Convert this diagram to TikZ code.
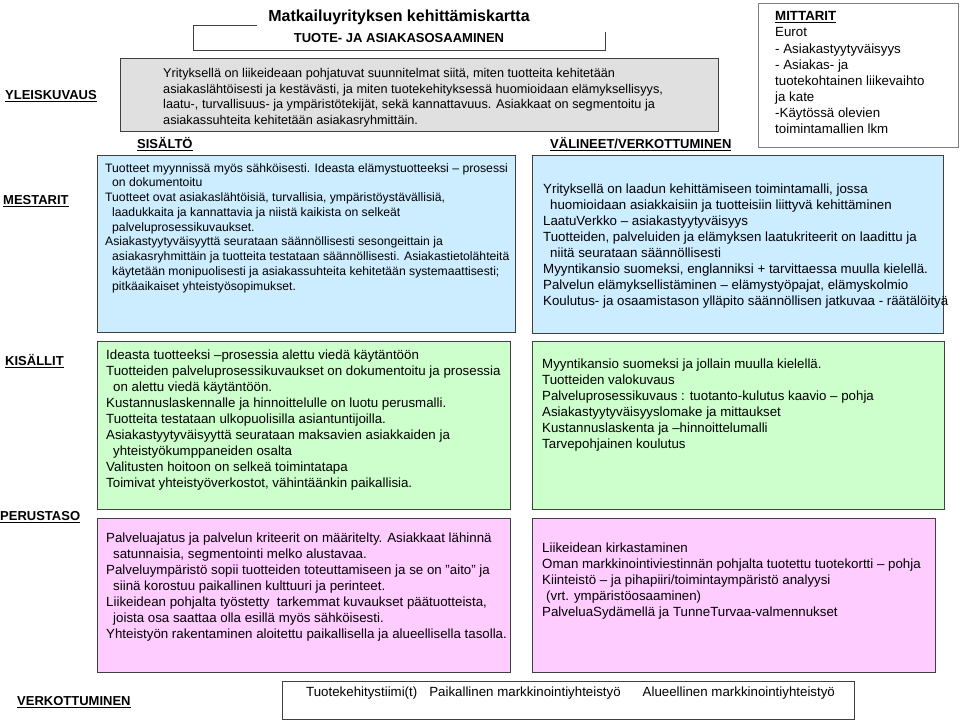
\documentclass[tikz,border=0pt]{standalone}
\usepackage{fontspec}
\setmainfont{Liberation Sans}
\usepackage{xcolor}
\usetikzlibrary{positioning}
\definecolor{greyfill}{RGB}{224,224,224}
\definecolor{bluefill}{RGB}{204,236,255}
\definecolor{greenfill}{RGB}{204,255,204}
\definecolor{pinkfill}{RGB}{255,204,255}
\definecolor{edgegrey}{RGB}{64,64,64}
\newcommand{\ind}{\hspace*{7pt}}

\begin{document}
\begin{tikzpicture}[x=1pt,y=-1pt,
 panel/.style={draw=edgegrey,line width=1.1pt,anchor=north west,inner sep=0pt},
 txt/.style={anchor=north west,align=left,inner sep=0pt,font=\fontsize{13.3}{16}\selectfont},
 lbl/.style={anchor=west,inner sep=0pt,font=\fontsize{13}{15}\selectfont\bfseries}]
\useasboundingbox[fill=white] (0,0) rectangle (960,723);
\draw[edgegrey,line width=0.8pt] (257,25) -- (193,25) -- (193,50) -- (605,50) -- (605,32);
\node[font=\fontsize{16}{19}\selectfont\bfseries] (title) at (399,17) {Matkailuyrityksen kehittämiskartta};
\node[font=\fontsize{13}{15}\selectfont\bfseries] (sub) at (399,38) {TUOTE- JA ASIAKASOSAAMINEN};
\node[panel,fill=greyfill,minimum width=598pt,minimum height=73pt] (yleis) at (120,58) {};
\node[txt,font=\fontsize{12.7}{15.7}\selectfont] (yleistxt) at (163,68) {Yrityksellä on liikeideaan pohjatuvat suunnitelmat siitä, miten tuotteita kehitetään\\
asiakaslähtöisesti ja kestävästi, ja miten tuotekehityksessä huomioidaan elämyksellisyys,\\
laatu-, turvallisuus- ja ympäristötekijät, sekä kannattavuus. Asiakkaat on segmentoitu ja\\
asiakassuhteita kehitetään asiakasryhmittäin.};
\node[panel,draw=gray,line width=0.8pt,fill=white,minimum width=200pt,minimum height=144pt] (mitt) at (758,3) {};
\node[txt,font=\fontsize{13.3}{16.1}\selectfont] (mitttxt) at (775,11.5) {\textbf{\underline{MITTARIT}}\\
Eurot\\
- Asiakastyytyväisyys\\
- Asiakas- ja\\
tuotekohtainen liikevaihto\\
ja kate\\
-Käytössä olevien\\
toimintamallien lkm};
\node[lbl] (yleislbl) at (5,96) {\underline{YLEISKUVAUS}};
\node[lbl] (sislbl) at (137,144) {\underline{SISÄLTÖ}};
\node[lbl] (vallbl) at (550,144) {\underline{VÄLINEET/VERKOTTUMINEN}};
\node[lbl] (mestlbl) at (3,201) {\underline{MESTARIT}};
\node[lbl] (kislbl) at (5,361) {\underline{KISÄLLIT}};
\node[lbl] (perlbl) at (0,517) {\underline{PERUSTASO}};
\node[lbl] (verlbl) at (17,702) {\underline{VERKOTTUMINEN}};
\node[panel,fill=bluefill,minimum width=418pt,minimum height=177pt] (mests) at (97,155) {};
\node[txt,font=\fontsize{12.2}{14.75}\selectfont] (meststxt) at (105,163) {Tuotteet myynnissä myös sähköisesti. Ideasta elämystuotteeksi -- prosessi\\
\ind on dokumentoitu\\
Tuotteet ovat asiakaslähtöisiä, turvallisia, ympäristöystävällisiä,\\
\ind laadukkaita ja kannattavia ja niistä kaikista on selkeät\\
\ind palveluprosessikuvaukset.\\
Asiakastyytyväisyyttä seurataan säännöllisesti sesongeittain ja\\
\ind asiakasryhmittäin ja tuotteita testataan säännöllisesti. Asiakastietolähteitä\\
\ind käytetään monipuolisesti ja asiakassuhteita kehitetään systemaattisesti;\\
\ind pitkäaikaiset yhteistyösopimukset.};
\node[panel,fill=bluefill,minimum width=411pt,minimum height=178pt] (mestv) at (532,155) {};
\node[txt] (mestvtxt) at (543,183.5) {Yrityksellä on laadun kehittämiseen toimintamalli, jossa\\
\ind huomioidaan asiakkaisiin ja tuotteisiin liittyvä kehittäminen\\
LaatuVerkko -- asiakastyytyväisyys\\
Tuotteiden, palveluiden ja elämyksen laatukriteerit on laadittu ja\\
\ind niitä seurataan säännöllisesti\\
Myyntikansio suomeksi, englanniksi + tarvittaessa muulla kielellä.\\
Palvelun elämyksellistäminen -- elämystyöpajat, elämyskolmio\\
Koulutus- ja osaamistason ylläpito säännöllisen jatkuvaa - räätälöityä};
\node[panel,fill=greenfill,minimum width=413pt,minimum height=168pt] (kiss) at (97,341) {};
\node[txt] (kisstxt) at (106,349.5) {Ideasta tuotteeksi --prosessia alettu viedä käytäntöön\\
Tuotteiden palveluprosessikuvaukset on dokumentoitu ja prosessia\\
\ind on alettu viedä käytäntöön.\\
Kustannuslaskennalle ja hinnoittelulle on luotu perusmalli.\\
Tuotteita testataan ulkopuolisilla asiantuntijoilla.\\
Asiakastyytyväisyyttä seurataan maksavien asiakkaiden ja\\
\ind yhteistyökumppaneiden osalta\\
Valitusten hoitoon on selkeä toimintatapa\\
Toimivat yhteistyöverkostot, vähintäänkin paikallisia.};
\node[panel,fill=greenfill,minimum width=412pt,minimum height=168pt] (kisv) at (532,341) {};
\node[txt] (kisvtxt) at (542,358.5) {Myyntikansio suomeksi ja jollain muulla kielellä.\\
Tuotteiden valokuvaus\\
Palveluprosessikuvaus : tuotanto-kulutus kaavio -- pohja\\
Asiakastyytyväisyyslomake ja mittaukset\\
Kustannuslaskenta ja --hinnoittelumalli\\
Tarvepohjainen koulutus};
\node[panel,fill=pinkfill,minimum width=413pt,minimum height=154pt] (pers) at (97,518) {};
\node[txt] (perstxt) at (106,532.5) {Palveluajatus ja palvelun kriteerit on määritelty. Asiakkaat lähinnä\\
\ind satunnaisia, segmentointi melko alustavaa.\\
Palveluympäristö sopii tuotteiden toteuttamiseen ja se on "aito" ja\\
\ind siinä korostuu paikallinen kulttuuri ja perinteet.\\
Liikeidean pohjalta työstetty\ \ tarkemmat kuvaukset päätuotteista,\\
\ind joista osa saattaa olla esillä myös sähköisesti.\\
Yhteistyön rakentaminen aloitettu paikallisella ja alueellisella tasolla.};
\node[panel,fill=pinkfill,minimum width=403pt,minimum height=154pt] (perv) at (532,518) {};
\node[txt] (pervtxt) at (542,542.5) {Liikeidean kirkastaminen\\
Oman markkinointiviestinnän pohjalta tuotettu tuotekortti -- pohja\\
Kiinteistö -- ja pihapiiri/toimintaympäristö analyysi\\
\hspace*{4pt}(vrt. ympäristöosaaminen)\\
PalveluaSydämellä ja TunneTurvaa-valmennukset};
\node[panel,fill=white,minimum width=572pt,minimum height=38pt] (verk) at (282,681) {};
\node[txt] (verktxt) at (306,686.5) {Tuotekehitystiimi(t)\hspace{12pt}Paikallinen markkinointiyhteistyö\hspace{22pt}Alueellinen markkinointiyhteistyö};
\end{tikzpicture}
\end{document}
